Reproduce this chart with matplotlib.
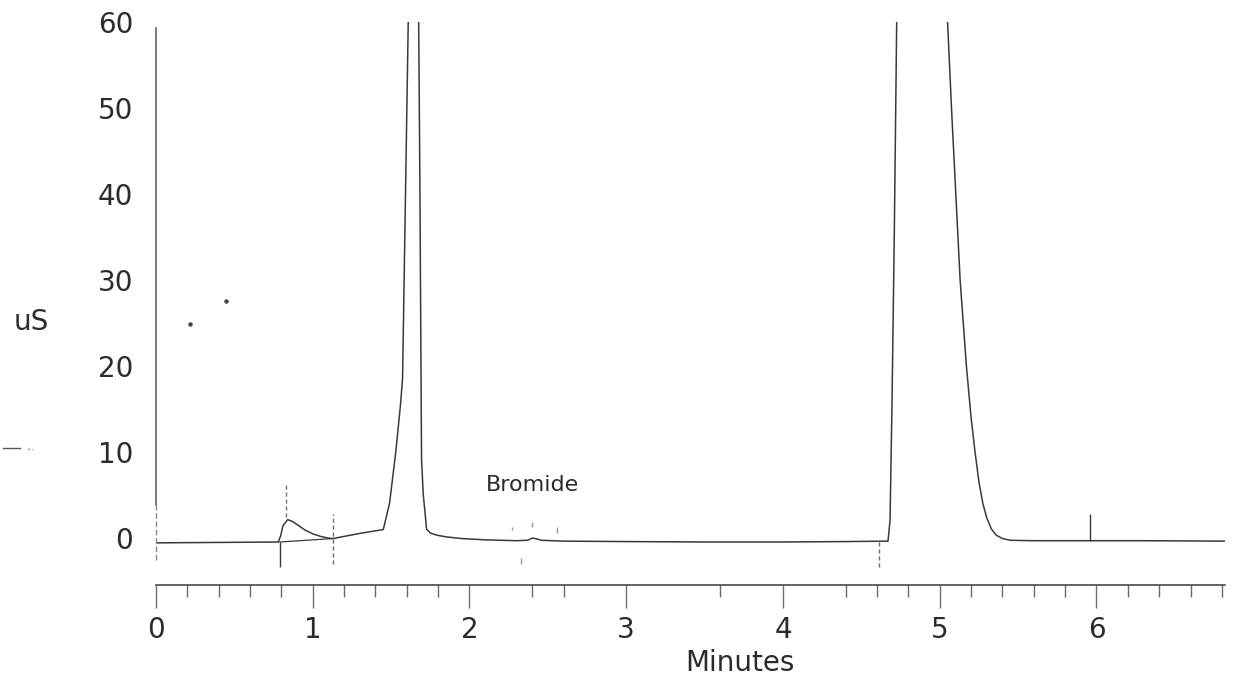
import matplotlib
matplotlib.use("Agg")
import matplotlib.pyplot as plt
from matplotlib.lines import Line2D
from matplotlib.ticker import FixedLocator

# Conductivity trace: retention time (min) vs. signal (uS).
# The two large peaks run off scale; their apex points sit above the axis top.
time_min = [0.00, 0.40, 0.78, 0.795, 0.81, 0.84, 0.87, 0.91, 0.95, 1.00,
            1.05, 1.10, 1.13, 1.20, 1.30, 1.40, 1.45, 1.49, 1.53, 1.56,
            1.573, 1.611, 1.64, 1.675, 1.684, 1.694, 1.705, 1.716, 1.726, 1.75,
            1.79, 1.85, 1.95, 2.10, 2.30, 2.37, 2.40, 2.42, 2.46, 2.60,
            3.00, 3.50, 4.00, 4.40, 4.67, 4.683, 4.695, 4.71, 4.728, 4.88,
            5.04, 5.075, 5.13, 5.17, 5.20, 5.225, 5.25, 5.275, 5.30, 5.33,
            5.36, 5.40, 5.45, 5.60, 5.95, 6.30, 6.82]
signal_us = [-0.60, -0.55, -0.50, 0.20, 1.40, 2.10, 1.90, 1.40, 0.90, 0.45,
             0.15, -0.05, -0.10, 0.15, 0.50, 0.80, 0.95, 4.00, 10.0, 15.5,
             18.5, 62.0, 95.0, 62.0, 40.0, 9.20, 5.00, 3.00, 1.00, 0.55,
             0.30, 0.10, -0.10, -0.25, -0.35, -0.30, -0.05, -0.10, -0.30, -0.40,
             -0.45, -0.50, -0.50, -0.45, -0.40, 2.00, 15.0, 35.0, 64.0, 140.0,
             64.0, 50.0, 30.0, 20.0, 14.0, 10.0, 6.50, 4.00, 2.30, 1.00,
             0.30, -0.10, -0.30, -0.35, -0.35, -0.35, -0.40]

# Integrator event marks (time, lower and upper signal of each short stroke)
event_solid_t = [0.79, 5.96]
event_solid_lo = [-3.4, -0.35]
event_solid_hi = [-0.5, 2.7]
event_dash_t = [0.83, 1.13, 4.615]
event_dash_lo = [2.4, -3.1, -3.4]
event_dash_hi = [6.4, 2.7, -0.4]
bromide_mark_t = [2.27, 2.33, 2.40, 2.56]
bromide_mark_lo = [0.9, -3.0, 1.3, 0.6]
bromide_mark_hi = [1.3, -2.4, 1.8, 1.3]

# Dropped baseline under the early hump
hump_base_t = [0.79, 1.13]
hump_base_v = [-0.50, -0.10]

peak_label = "Bromide"
peak_label_t = 2.40
peak_label_v = 6.1

y_ticks = [0, 10, 20, 30, 40, 50, 60]
x_ticks = [0, 1, 2, 3, 4, 5, 6]
# minor ticks that survive on the recorder chart paper
x_minor_ticks = [0.2, 0.4, 0.6, 0.8, 1.2, 1.4, 1.6, 1.8, 2.4, 2.6, 3.6,
                 4.4, 4.6, 4.8, 5.2, 5.4, 5.6, 5.8, 6.2, 6.4, 6.6, 6.8]

ink = "#3a3a3a"
text_ink = "#2b2b2b"

plt.rcParams["font.family"] = ["DejaVu Sans"]

fig = plt.figure(figsize=(12.33, 6.87), dpi=100)
fig.patch.set_facecolor("white")
ax = fig.add_axes([156 / 1233, 102 / 687, 1069 / 1233, 563.3 / 687])

ax.set_xlim(0, 6.82)
ax.set_ylim(-5.5, 60)

ax.plot(time_min, signal_us, color=ink, lw=1.1, solid_joinstyle="round")
ax.plot(hump_base_t, hump_base_v, color=ink, lw=0.9)

ax.vlines(event_solid_t, event_solid_lo, event_solid_hi, color=ink, lw=1.0)
ax.vlines(event_dash_t, event_dash_lo, event_dash_hi, color="#707070", lw=1.0,
          linestyles=(0, (3, 2)))
ax.vlines(bromide_mark_t, bromide_mark_lo, bromide_mark_hi, color="#9a9a9a", lw=1.0)

ax.text(peak_label_t, peak_label_v, peak_label, ha="center", va="center",
        fontsize=16, color=text_ink)

# Axes frame: only a bottom axis and a partly broken left rule
for side in ("top", "right"):
    ax.spines[side].set_visible(False)
ax.spines["bottom"].set_color(ink)
ax.spines["bottom"].set_linewidth(1.1)
ax.spines["left"].set_color("#555555")
ax.spines["left"].set_linewidth(1.1)
ax.spines["left"].set_bounds(3.8, 59.3)
ax.plot([0, 0], [-2.6, 3.8], color="#8a8a8a", lw=1.0, ls=(0, (4, 2)), clip_on=False)

ax.xaxis.set_major_locator(FixedLocator(x_ticks))
ax.xaxis.set_minor_locator(FixedLocator(x_minor_ticks))
ax.yaxis.set_major_locator(FixedLocator(y_ticks))
ax.tick_params(axis="x", which="major", direction="out", length=16.5, width=1.0,
               color="#707070", pad=6, labelsize=20, labelcolor=text_ink)
ax.tick_params(axis="x", which="minor", direction="out", length=8.6, width=1.0,
               color="#6a6a6a")
ax.tick_params(axis="y", which="both", length=0, pad=16.5, labelsize=20,
               labelcolor=text_ink)

ax.set_xlabel("Minutes", fontsize=20, color=text_ink)
ax.xaxis.set_label_coords((740 - 156) / 1069, -(663 - 585) / 563.3)
ax.xaxis.label.set_va("center")
fig.text(31 / 1233, 1 - 322 / 687, "uS", ha="center", va="center",
         fontsize=20, color=text_ink)

# Stray specks on the page
fig.add_artist(Line2D([190 / 1233], [1 - 324 / 687], transform=fig.transFigure,
                      marker="o", ms=2.2, color="#444444", lw=0))
fig.add_artist(Line2D([226 / 1233], [1 - 301 / 687], transform=fig.transFigure,
                      marker="o", ms=2.2, color="#444444", lw=0))
fig.add_artist(Line2D([3 / 1233, 20 / 1233], [1 - 448 / 687, 1 - 448 / 687],
                      transform=fig.transFigure, color="#555555", lw=1.0))
fig.add_artist(Line2D([28 / 1233, 33 / 1233], [1 - 449 / 687, 1 - 449 / 687],
                      transform=fig.transFigure, color="#777777", lw=1.0,
                      ls=(0, (1, 2))))

fig.savefig("out.png", dpi=100, facecolor="white")
